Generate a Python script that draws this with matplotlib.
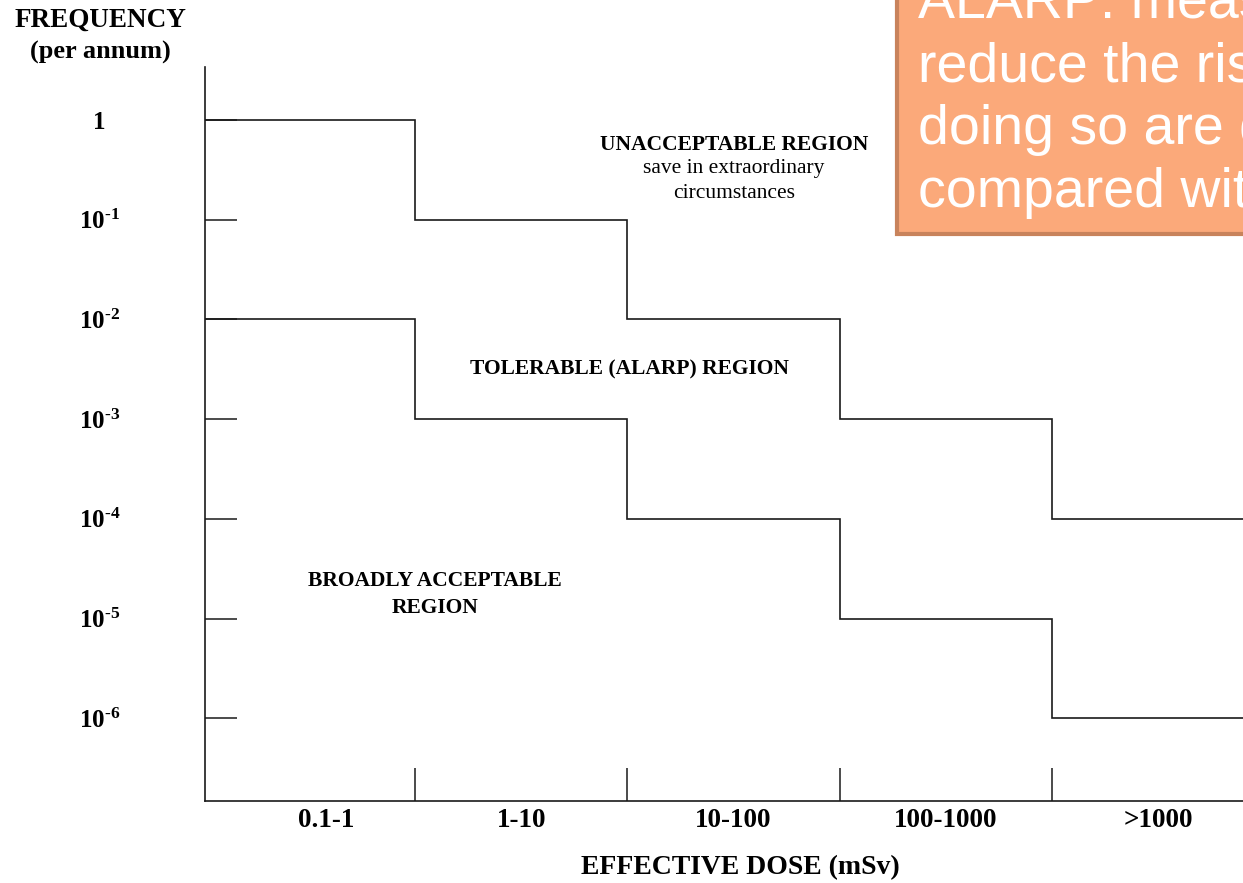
import matplotlib.pyplot as plt
from matplotlib.patches import Rectangle
from matplotlib.ticker import NullLocator

# Dose bands and the two boundary lines (frequency per annum)
dose_bands = ["0.1-1", "1-10", "10-100", "100-1000", ">1000"]
band_edges = [0, 1, 2, 3, 4, 5]
upper_limit = [1, 1e-1, 1e-2, 1e-3, 1e-4]      # above: unacceptable
lower_limit = [1e-2, 1e-3, 1e-4, 1e-5, 1e-6]   # below: broadly acceptable
freq_ticks = [1, 1e-1, 1e-2, 1e-3, 1e-4, 1e-5, 1e-6]
freq_labels = ["1"] + ["10$^{\u2010%d}$" % k for k in range(1, 7)]
band_label_pos = [0.58, 1.5, 2.5, 3.5, 4.5]

note_lines = ["ALARP: measures should be taken to",
              "reduce the risk unless the costs of",
              "doing so are disproportionate",
              "compared with the benefits"]

plt.rcParams['font.family'] = ['Liberation Serif', 'DejaVu Serif']
plt.rcParams['mathtext.fontset'] = 'custom'
plt.rcParams['mathtext.rm'] = 'Liberation Serif:bold'
plt.rcParams['mathtext.bf'] = 'Liberation Serif:bold'
plt.rcParams['mathtext.it'] = 'Liberation Serif:bold:italic'

W, H = 1243, 883


def px(x, y):
    # pixel position -> figure fraction
    return x / W, 1 - y / H


fig = plt.figure(figsize=(W / 100, H / 100), dpi=100)
ax = fig.add_axes([205 / W, 1 - 801 / H, 1 - 205 / W, (801 - 67) / H])

line_col = '#1a1a1a'
ax.stairs(upper_limit, band_edges, baseline=None, color=line_col, lw=1.2)
ax.stairs(lower_limit, band_edges, baseline=None, color=line_col, lw=1.2)

ax.set_yscale('log')
ax.set_xlim((205 - 202.67) / 212.33, (1243 - 202.67) / 212.33)
ax.set_ylim(10 ** (0.532 - 7.362), 10 ** 0.532)

for s in ['top', 'right']:
    ax.spines[s].set_visible(False)
for s in ['left', 'bottom']:
    ax.spines[s].set_linewidth(1.2)
    ax.spines[s].set_color(line_col)

# y axis
ax.yaxis.set_minor_locator(NullLocator())
ax.set_yticks(freq_ticks)
ax.set_yticklabels(freq_labels, fontweight='bold', fontsize=18, ha='center')
ax.tick_params(axis='y', which='major', direction='in', length=23,
               width=1.1, color=line_col, pad=76)

# x axis: band boundaries as ticks, band names between them
ax.set_xticks(band_edges[1:5])
ax.set_xticklabels([])
ax.tick_params(axis='x', which='major', direction='in', length=24,
               width=1.1, color=line_col)
ax.set_xticks(band_label_pos, minor=True)
ax.set_xticklabels(dose_bands, minor=True, fontweight='bold', fontsize=19.5)
ax.tick_params(axis='x', which='minor', length=0, pad=5)

fig.text(*px(100, 20), "FREQUENCY", ha='center', va='center',
         fontweight='bold', fontsize=19.5)
fig.text(*px(100, 52), "(per annum)", ha='center', va='center',
         fontweight='bold', fontsize=19)
fig.text(*px(740, 868), "EFFECTIVE DOSE (mSv)", ha='center', va='center',
         fontweight='bold', fontsize=20)

# region labels
fig.text(*px(734, 145), "UNACCEPTABLE REGION", ha='center', va='center',
         fontweight='bold', fontsize=15.5)
fig.text(*px(734, 169), "save in extraordinary", ha='center', va='center',
         fontsize=15.5)
fig.text(*px(734, 193), "circumstances", ha='center', va='center',
         fontsize=15.5)
fig.text(*px(629, 369), "TOLERABLE (ALARP) REGION", ha='center', va='center',
         fontweight='bold', fontsize=15.5)
fig.text(*px(435, 581), "BROADLY ACCEPTABLE", ha='center', va='center',
         fontweight='bold', fontsize=15.5)
fig.text(*px(435, 608), "REGION", ha='center', va='center',
         fontweight='bold', fontsize=15.5)

# orange call-out box (runs off the figure edge)
x0, y0 = px(897, 234)
fig.add_artist(Rectangle((x0, y0), 0.5, 0.5, transform=fig.transFigure,
                         facecolor='#FBA97A', edgecolor='#C8835C', lw=3))
for i, line in enumerate(note_lines):
    fig.text(*px(918, 18 + 63 * i), line, ha='left', va='baseline',
             color='white', fontsize=40, family='Liberation Sans')

fig.savefig('out.png', dpi=100)
